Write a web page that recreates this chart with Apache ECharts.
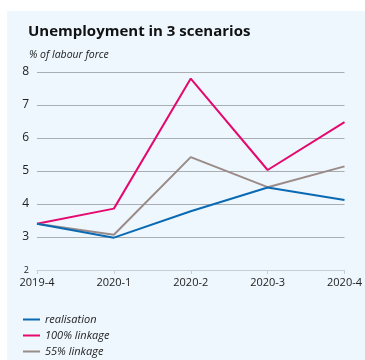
<!DOCTYPE html>
<html><head><meta charset="utf-8">
<script src="https://cdn.jsdelivr.net/npm/echarts@6/dist/echarts.min.js"></script>
<style>html,body{margin:0;padding:0;background:#fff}#c{width:365px;height:360px}</style>
</head><body><div id="c"></div>
<script>
const categories = ['2019-4','2020-1','2020-2','2020-3','2020-4'];
const realisation = [3.4, 2.98, 3.78, 4.5, 4.12];
const linkage100 = [3.4, 3.86, 7.8, 5.03, 6.48];
const linkage55 = [3.4, 3.07, 5.42, 4.51, 5.14];
const seriesNames = ['realisation','100% linkage','55% linkage'];
const FONT = 'Open Sans';
const chart = echarts.init(document.getElementById('c'));
chart.setOption({
  animation:false,
  graphic:[{type:'rect',shape:{x:7,y:11,width:358,height:349},style:{fill:'#edf7fd'},z:-10}],
  title:[{text:'Unemployment in 3 scenarios',left:23,top:19,textStyle:{fontFamily:FONT,fontSize:15,fontWeight:'bold',color:'#111'}},
         {text:'% of labour force',left:24,top:45,textStyle:{fontFamily:FONT,fontSize:10.5,fontStyle:'italic',fontWeight:'normal',color:'#222'}}],
  grid:{left:37,right:17,top:72,bottom:90,containLabel:false},
  legend:{orient:'vertical',left:23,top:313,padding:0,height:50,icon:'rect',itemWidth:17,itemHeight:2,itemGap:3,
    textStyle:{fontFamily:FONT,fontSize:11,fontStyle:'italic',color:'#222',lineHeight:13},data:seriesNames},
  xAxis:{type:'category',data:categories,boundaryGap:false,
    axisLine:{lineStyle:{color:'#c6cdd3',width:1}},
    axisTick:{show:true,length:4,lineStyle:{color:'#c6cdd3'}},
    axisLabel:{fontFamily:FONT,fontSize:11,color:'#222',margin:7,interval:0},
    splitLine:{show:false}},
  yAxis:{type:'value',min:2,max:8,interval:1,
    axisLine:{show:false},axisTick:{show:false},
    axisLabel:{fontFamily:FONT,fontSize:12,color:'#222',margin:8,
      formatter:v=>v===2?'{s|2}':String(v),rich:{s:{fontSize:9,fontFamily:FONT,color:'#222'}}},
    splitLine:{lineStyle:{color:'#a9aeb3',width:1}}},
  series:[
    {name:seriesNames[0],type:'line',data:realisation,symbol:'none',lineStyle:{width:2,color:'#0a69b3'},itemStyle:{color:'#0a69b3'},z:3},
    {name:seriesNames[1],type:'line',data:linkage100,symbol:'none',lineStyle:{width:2,color:'#e5086f'},itemStyle:{color:'#e5086f'},z:2},
    {name:seriesNames[2],type:'line',data:linkage55,symbol:'none',lineStyle:{width:2,color:'#9b8b88'},itemStyle:{color:'#9b8b88'},z:2}
  ]
});
</script></body></html>
